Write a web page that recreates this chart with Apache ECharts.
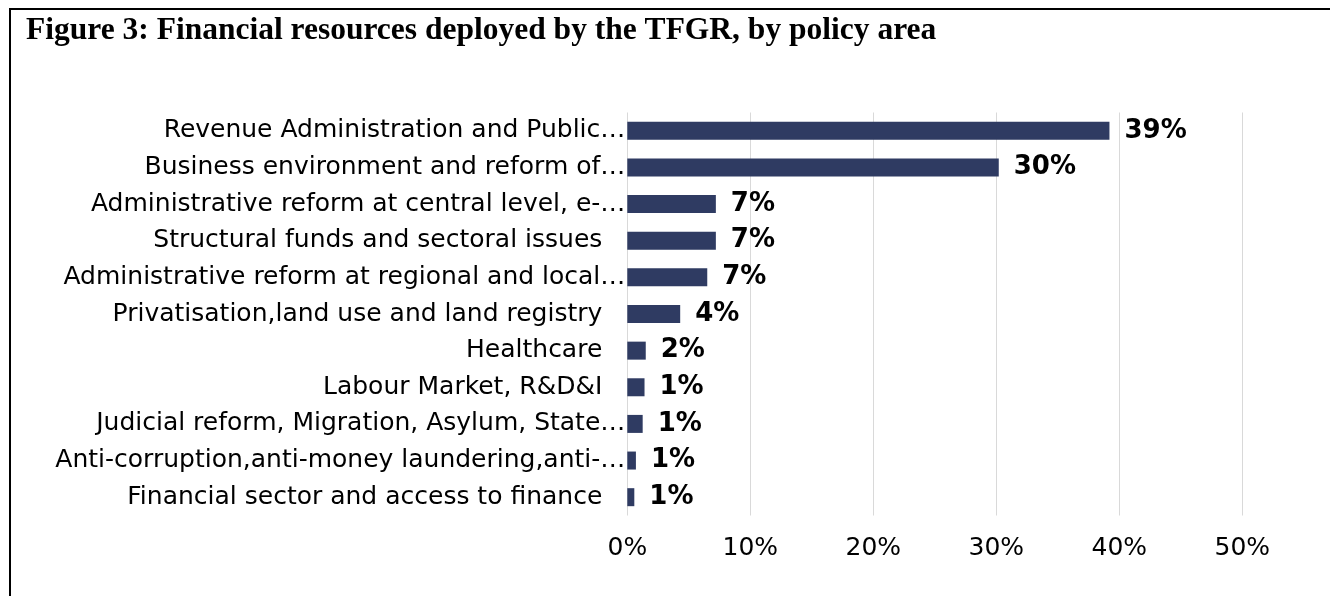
<!DOCTYPE html>
<html>
<head>
<meta charset="utf-8">
<script src="https://cdn.jsdelivr.net/npm/echarts@6/dist/echarts.min.js"></script>
<style>
html,body{margin:0;padding:0;background:#fff;}
#chart{width:1330px;height:596px;}
</style>
</head>
<body>
<div id="chart"></div>
<script>
var title = 'Figure 3: Financial resources deployed by the TFGR, by policy area';
var categories = [
  'Revenue Administration and Public…',
  'Business environment and reform of…',
  'Administrative reform at central level, e-…',
  'Structural funds and sectoral issues',
  'Administrative reform at regional and local…',
  'Privatisation,land use and land registry',
  'Healthcare',
  'Labour Market, R&D&I',
  'Judicial reform, Migration, Asylum, State…',
  'Anti-corruption,anti-money laundering,anti-…',
  'Financial sector and access to finance'
];
var shares = [39.2, 30.2, 7.2, 7.2, 6.5, 4.3, 1.5, 1.4, 1.25, 0.7, 0.57];
var shareLabels = ['39%', '30%', '7%', '7%', '7%', '4%', '2%', '1%', '1%', '1%', '1%'];
var axisMin = 0, axisMax = 50, axisStep = 10;

var FONT = 'DejaVu Sans';
var FS = 25;
var chart = echarts.init(document.getElementById('chart'), null, {renderer: 'canvas'});
chart.setOption({
  animation: false,
  backgroundColor: '#fff',
  title: {
    text: title,
    left: 21,
    top: 10,
    textStyle: {fontFamily: 'Liberation Serif', fontWeight: 'bold', fontSize: 31.5, color: '#000'}
  },
  graphic: [{
    type: 'polyline',
    shape: {points: [[10, 600], [10, 9], [1332, 9]]},
    style: {stroke: '#000', lineWidth: 2, fill: null},
    silent: true
  }],
  grid: {left: 627.3, right: 87.7, top: 112.5, bottom: 80.5, containLabel: false},
  xAxis: {
    type: 'value',
    min: axisMin, max: axisMax, interval: axisStep,
    axisLine: {show: false},
    axisTick: {show: false},
    splitLine: {show: true, lineStyle: {color: '#d9d9d9', width: 1}},
    axisLabel: {
      formatter: '{value}%',
      fontFamily: FONT, fontSize: FS, color: '#000', margin: 20
    }
  },
  yAxis: {
    type: 'category',
    data: categories,
    inverse: true,
    axisLine: {show: false},
    axisTick: {show: false},
    axisLabel: {
      fontFamily: FONT, fontSize: FS, color: '#000', margin: 2,
      formatter: function (v) {
        return /…$/.test(v) ? '{e|' + v + '}' : '{n|' + v + '}';
      },
      rich: {
        e: {fontFamily: FONT, fontSize: FS, color: '#000'},
        n: {fontFamily: FONT, fontSize: FS, color: '#000', padding: [0, 23, 0, 0]}
      }
    }
  },
  series: [{
    type: 'bar',
    data: shares,
    barWidth: 18,
    itemStyle: {color: '#2f3b62'},
    label: {
      show: true,
      position: 'right',
      distance: 15,
      fontFamily: FONT, fontWeight: 'bold', fontSize: 26, color: '#000',
      formatter: function (p) { return shareLabels[p.dataIndex]; }
    }
  }]
});
</script>
</body>
</html>
